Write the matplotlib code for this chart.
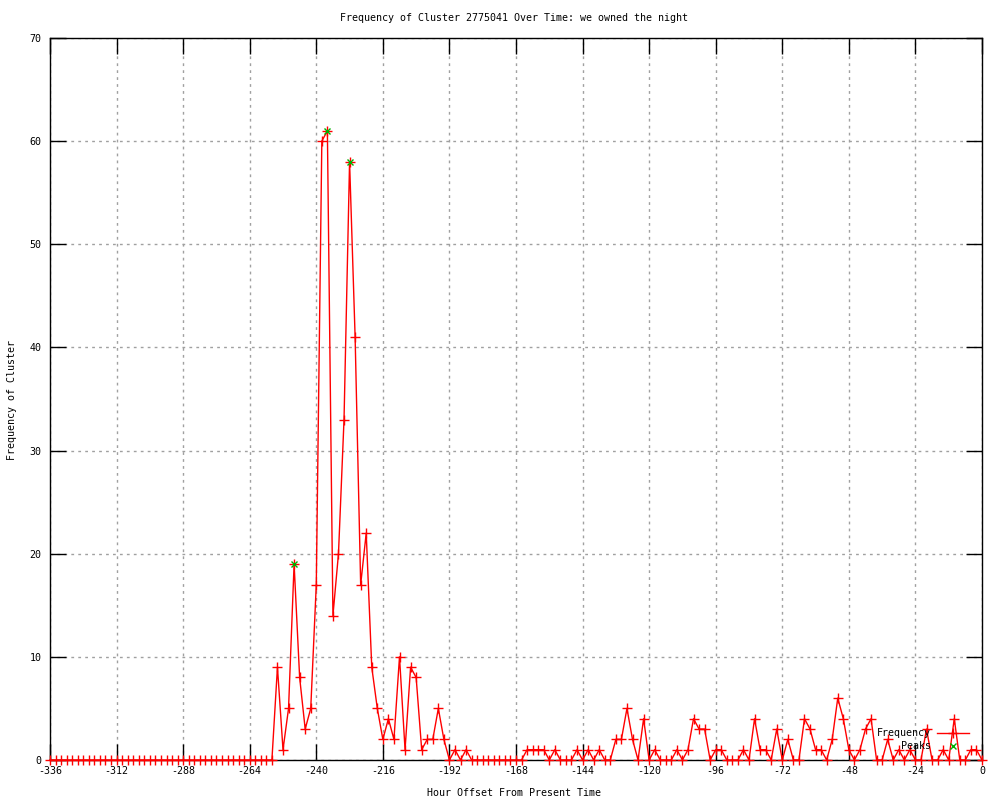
import matplotlib
matplotlib.use("Agg")
import matplotlib.pyplot as plt
from matplotlib.lines import Line2D
import numpy as np

# ---- data ----
hours = list(range(-336, 1, 2))
frequency = [0] * 41 + [
    9, 1, 5, 19, 8, 3, 5, 17, 60, 61, 14, 20, 33, 58, 41, 17, 22, 9, 5, 2,
    4, 2, 10, 1, 9, 8, 1, 2, 2, 5, 2, 0, 1, 0, 1,
    0, 0, 0, 0, 0, 0, 0, 0, 0, 0,
    1, 1, 1, 1, 0, 1, 0, 0, 0, 1, 0, 1, 0, 1, 0, 0, 2, 2, 5, 2, 0, 4, 0, 1,
    0, 0, 0, 1, 0, 1, 4, 3, 3, 0, 1, 1, 0, 0, 0, 1, 0, 4, 1, 1, 0, 3, 0, 2,
    0, 0, 4, 3, 1, 1, 0, 2, 6, 4, 1, 0, 1, 3, 4, 0, 0, 2, 0, 1, 0, 1, 0, 0,
    3, 0, 0, 1, 0, 4, 0, 0, 1, 1, 0,
]
peak_hours = [-248, -236, -228]
peak_values = [19, 61, 58]

title = "Frequency of Cluster 2775041 Over Time: we owned the night"
xlabel = "Hour Offset From Present Time"
ylabel = "Frequency of Cluster"
xticks = list(range(-336, 1, 24))
yticks = list(range(0, 71, 10))

FONT = "DejaVu Sans Mono"
FS = 7.2

fig = plt.figure(figsize=(10, 8), dpi=100)
ax = fig.add_axes([0.05, 0.05, 0.932, 0.9025])

ax.plot(hours, frequency, color="red", lw=1.0, marker="+", ms=6.5, mew=1.0,
        clip_on=False, zorder=3, label="Frequency")
ax.plot(peak_hours, peak_values, ls="none", color="#00b000", marker="x",
        ms=5, mew=1.0, clip_on=False, zorder=4, label="Peaks")

ax.set_xlim(-336, 0)
ax.set_ylim(0, 70)
ax.set_xticks(xticks)
ax.set_yticks(yticks)
ax.set_xticklabels([str(t) for t in xticks], family=FONT, fontsize=FS)
ax.set_yticklabels([str(t) for t in yticks], family=FONT, fontsize=FS)
ax.tick_params(direction="in", length=11.5, width=1, top=True, right=True,
               color="black")
ax.tick_params(axis="x", pad=4)
ax.tick_params(axis="y", pad=6)
ax.grid(True, color="#a0a0a0", linestyle=(0, (2, 3)), lw=1)
ax.set_axisbelow(True)
for s in ax.spines.values():
    s.set_linewidth(1)
    s.set_color("black")

fig.text(0.514, 1 - 18 / 800, title, ha="center", va="center",
         family=FONT, fontsize=FS)
fig.text(0.514, 1 - 793 / 800, xlabel, ha="center", va="center",
         family=FONT, fontsize=FS)
fig.text(12 / 1000, 0.5, ylabel, ha="center", va="center",
         rotation=90, family=FONT, fontsize=FS)

handles = [
    Line2D([], [], color="red", lw=1, marker="+", ms=6.5, mew=1),
    Line2D([], [], ls="none", color="#00b000", marker="x", ms=5, mew=1),
]
leg = ax.legend(handles, ["Frequency", "Peaks"], loc="lower right",
                bbox_to_anchor=(974 / 1000, (800 - 756) / 800),
                bbox_transform=fig.transFigure, frameon=False,
                markerfirst=False, borderpad=0, handlelength=3.2,
                handletextpad=0.6, labelspacing=0.25,
                prop={"family": FONT, "size": FS})
leg.set_zorder(5)

fig.savefig("out.png", dpi=100, facecolor="white")
